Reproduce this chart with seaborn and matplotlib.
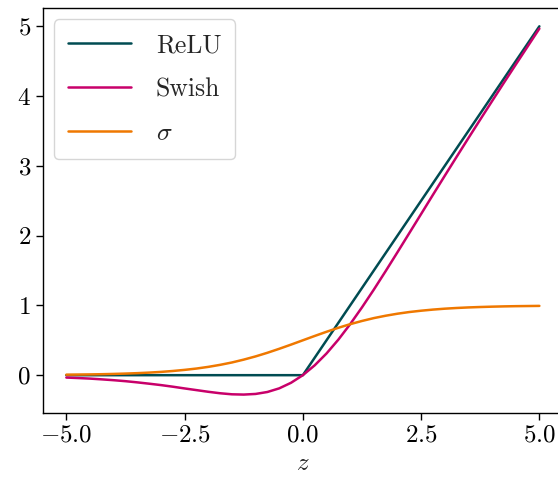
import matplotlib
matplotlib.use("Agg")
import matplotlib.pyplot as plt
import seaborn as sns
import pandas as pd

z = [-5.0, -4.75, -4.5, -4.25, -4.0, -3.75, -3.5, -3.25, -3.0, -2.75, -2.5,
     -2.25, -2.0, -1.75, -1.5, -1.25, -1.0, -0.75, -0.5, -0.25, 0.0,
     0.25, 0.5, 0.75, 1.0, 1.25, 1.5, 1.75, 2.0, 2.25, 2.5,
     2.75, 3.0, 3.25, 3.5, 3.75, 4.0, 4.25, 4.5, 4.75, 5.0]

relu = [0, 0, 0, 0, 0, 0, 0, 0, 0, 0, 0,
        0, 0, 0, 0, 0, 0, 0, 0, 0, 0,
        0.25, 0.5, 0.75, 1.0, 1.25, 1.5, 1.75, 2.0, 2.25, 2.5,
        2.75, 3.0, 3.25, 3.5, 3.75, 4.0, 4.25, 4.5, 4.75, 5.0]

swish = [-0.034, -0.041, -0.049, -0.060, -0.072, -0.086, -0.103, -0.122, -0.142, -0.165, -0.190,
         -0.214, -0.238, -0.259, -0.274, -0.278, -0.269, -0.241, -0.189, -0.109, 0.0,
         0.141, 0.311, 0.509, 0.731, 0.972, 1.226, 1.491, 1.762, 2.036, 2.310,
         2.585, 2.858, 3.129, 3.398, 3.664, 3.928, 4.191, 4.451, 4.709, 4.967]

sigma = [0.007, 0.009, 0.011, 0.014, 0.018, 0.023, 0.029, 0.037, 0.047, 0.060, 0.076,
         0.095, 0.119, 0.148, 0.182, 0.223, 0.269, 0.321, 0.378, 0.438, 0.5,
         0.562, 0.622, 0.679, 0.731, 0.777, 0.818, 0.852, 0.881, 0.905, 0.924,
         0.940, 0.953, 0.963, 0.971, 0.977, 0.982, 0.986, 0.989, 0.991, 0.993]

names = ["ReLU", "Swish", r"$\sigma$"]
colors = ["#004c52", "#c8006a", "#ef7800"]

df = pd.concat([
    pd.DataFrame({"z": z, "y": relu, "f": names[0]}),
    pd.DataFrame({"z": z, "y": swish, "f": names[1]}),
    pd.DataFrame({"z": z, "y": sigma, "f": names[2]}),
])

sns.set_theme(style="ticks")
plt.rcParams.update({
    "font.family": ["cmr10", "DejaVu Serif"],
    "mathtext.fontset": "cm",
    "axes.formatter.use_mathtext": True,
    "axes.unicode_minus": True,
    "font.size": 18,
    "xtick.labelsize": 18,
    "ytick.labelsize": 18,
    "legend.fontsize": 18.5,
    "axes.labelsize": 18,
    "axes.edgecolor": "black",
    "axes.linewidth": 1.0,
    "xtick.color": "black",
    "ytick.color": "black",
    "xtick.major.size": 5,
    "ytick.major.size": 5,
    "xtick.major.width": 1.0,
    "ytick.major.width": 1.0,
})

fig = plt.figure(figsize=(5.58, 4.84), dpi=100)
ax = fig.add_axes([0.0765, 0.1467, 0.9325, 0.837])
sns.lineplot(data=df, x="z", y="y", hue="f", palette=dict(zip(names, colors)),
             linewidth=1.8, ax=ax, sort=False, estimator=None)
ax.set_xlim(-5.5, 5.5)
ax.set_ylim(-0.542, 5.264)
ax.set_xlabel(r"$z$")
ax.set_ylabel("")
ax.set_xticks([-5.0, -2.5, 0.0, 2.5, 5.0])
ax.set_yticks([0, 1, 2, 3, 4, 5])
leg = ax.legend(loc="upper left", title=None, frameon=True, fancybox=True,
                handlelength=2.45, handletextpad=0.95, labelspacing=0.78,
                borderpad=0.55, borderaxespad=0.45)
fig.savefig("out.png", dpi=100)
